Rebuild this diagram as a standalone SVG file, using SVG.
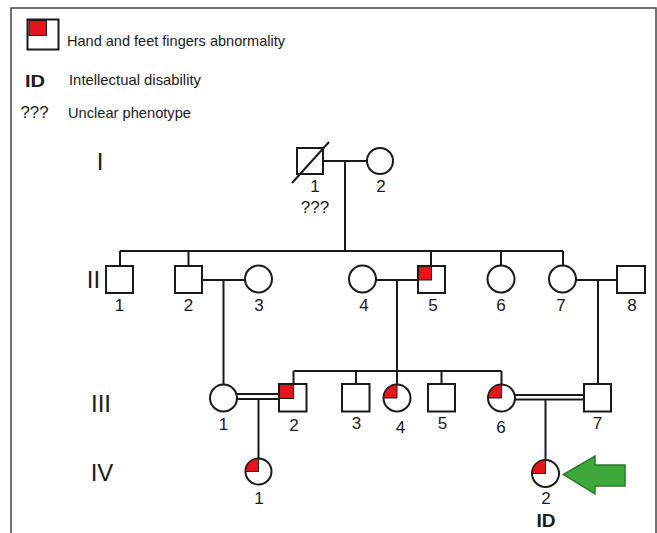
<svg xmlns="http://www.w3.org/2000/svg" width="657" height="533" viewBox="0 0 657 533">
  <style>
    .ln { stroke: #1a1a1a; stroke-width: 2; fill: none; }
    .sym { stroke: #1a1a1a; stroke-width: 2; fill: #ffffff; }
    .aff { fill: #e8141c; stroke: #1a1a1a; stroke-width: 1; }
    .num { font-family: "Liberation Sans", Arial, sans-serif; font-size: 17px; fill: #1a1a1a; text-anchor: middle; }
    .gen { font-family: "Liberation Sans", Arial, sans-serif; font-size: 24px; fill: #1a1a1a; text-anchor: middle; }
    .leg { font-family: "Liberation Sans", Arial, sans-serif; font-size: 15px; fill: #1a1a1a; }
    .bold { font-weight: bold; }
  </style>

  <rect width="657" height="533" fill="#ffffff"/>
  <!-- frame -->
  <path d="M11,533 V8 H656 V533" fill="none" stroke="#444" stroke-width="1.5"/>

  <!-- legend -->
  <g id="legend">
    <rect x="27.5" y="19.5" width="31" height="30" fill="#fff" stroke="#1a1a1a" stroke-width="2"/>
    <rect x="29" y="20.5" width="17.5" height="15" fill="#e8141c" stroke="#1a1a1a" stroke-width="1"/>
    <text class="leg" x="67" y="46" textLength="218" lengthAdjust="spacingAndGlyphs">Hand and feet fingers abnormality</text>
    <text class="leg bold" x="25" y="87" style="font-size:17px" textLength="20" lengthAdjust="spacingAndGlyphs">ID</text>
    <text class="leg" x="69" y="85" textLength="132" lengthAdjust="spacingAndGlyphs">Intellectual disability</text>
    <text class="leg" x="20.5" y="118" style="font-size:16px" textLength="28" lengthAdjust="spacingAndGlyphs">???</text>
    <text class="leg" x="68" y="118" textLength="123" lengthAdjust="spacingAndGlyphs">Unclear phenotype</text>
  </g>

  <!-- generation labels -->
  <g id="generations">
    <text class="gen" x="100" y="170">I</text>
    <text class="gen" x="93.5" y="288">II</text>
    <text class="gen" x="101" y="412">III</text>
    <text class="gen" x="102" y="481">IV</text>
  </g>

  <!-- connectors -->
  <g id="connectors">
    <!-- generation I -->
    <path class="ln" d="M323,161 H367 M345,161 V251"/>
    <!-- generation II sibship -->
    <path class="ln" d="M120,251 H563 M120,251 V266 M188.5,251 V266 M431,251 V266 M501,251 V265.5 M563,251 V265.5"/>
    <!-- generation II couples -->
    <path class="ln" d="M202,280 H245 M223.5,280 V384.5"/>
    <path class="ln" d="M376,280 H418 M397,280 V384.5"/>
    <path class="ln" d="M576,280 H617 M598,280 V384"/>
    <!-- generation III sibship -->
    <path class="ln" d="M293.5,371 H501.5 M293.5,371 V384 M356,371 V384 M441.5,371 V384 M501.5,371 V384.5"/>
    <!-- consanguineous couples -->
    <path class="ln" d="M237,394 H279 M237,399 H279 M258.5,399 V458"/>
    <path class="ln" d="M515,395 H584 M515,399.5 H584 M545.5,399.5 V460"/>
  </g>

  <!-- generation I -->
  <g id="I-1">
    <rect class="sym" x="297" y="148" width="26" height="26"/>
    <line class="ln" x1="292" y1="183" x2="329" y2="142"/>
    <text class="num" x="315" y="192">1</text>
    <text class="num" x="315" y="213">???</text>
  </g>
  <g id="I-2">
    <circle class="sym" cx="380" cy="161" r="13"/>
    <text class="num" x="381" y="192">2</text>
  </g>

  <!-- generation II -->
  <g id="II-1">
    <rect class="sym" x="106" y="266" width="27" height="27"/>
    <text class="num" x="119.5" y="311">1</text>
  </g>
  <g id="II-2">
    <rect class="sym" x="175" y="266" width="27" height="27"/>
    <text class="num" x="188.5" y="311">2</text>
  </g>
  <g id="II-3">
    <circle class="sym" cx="258.5" cy="279" r="13.5"/>
    <text class="num" x="259" y="311">3</text>
  </g>
  <g id="II-4">
    <circle class="sym" cx="362.5" cy="279" r="13.5"/>
    <text class="num" x="364" y="311">4</text>
  </g>
  <g id="II-5">
    <rect class="sym" x="418" y="266" width="27" height="27"/>
    <rect class="aff" x="418.5" y="266.5" width="13" height="13.5"/>
    <text class="num" x="433" y="311">5</text>
  </g>
  <g id="II-6">
    <circle class="sym" cx="501" cy="279" r="13.5"/>
    <text class="num" x="501" y="311">6</text>
  </g>
  <g id="II-7">
    <circle class="sym" cx="562.5" cy="279" r="13.5"/>
    <text class="num" x="561" y="311">7</text>
  </g>
  <g id="II-8">
    <rect class="sym" x="617" y="266" width="28" height="27"/>
    <text class="num" x="632" y="311">8</text>
  </g>

  <!-- generation III -->
  <g id="III-1">
    <circle class="sym" cx="223.5" cy="398" r="13.5"/>
    <text class="num" x="223.5" y="430">1</text>
  </g>
  <g id="III-2">
    <rect class="sym" x="279" y="384" width="27.5" height="27.5"/>
    <rect class="aff" x="279.5" y="384.5" width="14" height="14"/>
    <text class="num" x="294" y="431">2</text>
  </g>
  <g id="III-3">
    <rect class="sym" x="342" y="384" width="27.5" height="27.5"/>
    <text class="num" x="356.5" y="429">3</text>
  </g>
  <g id="III-4">
    <circle class="sym" cx="397" cy="398" r="13.5"/>
    <path class="aff" d="M397,398 H383.5 A13.5,13.5 0 0 1 397,384.5 Z"/>
    <text class="num" x="400.5" y="433">4</text>
  </g>
  <g id="III-5">
    <rect class="sym" x="428" y="384" width="27" height="27.5"/>
    <text class="num" x="442.5" y="429">5</text>
  </g>
  <g id="III-6">
    <circle class="sym" cx="501.5" cy="398" r="13.5"/>
    <path class="aff" d="M501.5,398 H488 A13.5,13.5 0 0 1 501.5,384.5 Z"/>
    <text class="num" x="501" y="433">6</text>
  </g>
  <g id="III-7">
    <rect class="sym" x="584" y="384" width="27" height="27.5"/>
    <text class="num" x="597.5" y="429">7</text>
  </g>

  <!-- generation IV -->
  <g id="IV-1">
    <circle class="sym" cx="258.5" cy="471.5" r="13"/>
    <path class="aff" d="M258.5,471.5 H245.5 A13,13 0 0 1 258.5,458.5 Z"/>
    <text class="num" x="259" y="504">1</text>
  </g>
  <g id="IV-2">
    <circle class="sym" cx="545.5" cy="473.5" r="13.5"/>
    <path class="aff" d="M545.5,473.5 H532 A13.5,13.5 0 0 1 545.5,460 Z"/>
    <text class="num" x="546" y="504">2</text>
    <text class="num bold" x="546" y="527" style="font-size:19px">ID</text>
  </g>

  <!-- proband arrow -->
  <g id="proband-arrow">
    <polygon points="563.5,474.5 595,456 595,465 625,465 625,486 595,486 595,494" fill="#3ea83a" stroke="#2a7a28" stroke-width="1.5" stroke-linejoin="miter"/>
  </g>
</svg>
